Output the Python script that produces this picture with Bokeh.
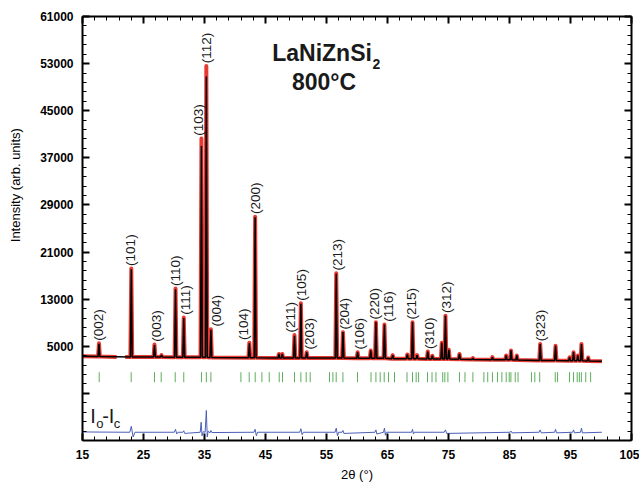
import math
from bokeh.plotting import figure
from bokeh.models import ColumnDataSource, FixedTicker, LinearAxis, Label, CustomJSTickFormatter
from bokeh.embed import file_html
from bokeh.resources import INLINE
from bokeh.core.properties import value

# ---------------- data ----------------
# peak positions (2theta, deg), calculated and observed peak tops, local background
peak_pos = [17.70, 23.00, 26.80, 27.95, 30.25, 31.60, 34.50, 35.30, 36.05, 42.35, 43.30,
            47.20, 47.75, 49.75, 50.80, 51.75, 56.60, 57.70, 60.10, 62.25, 63.10, 64.50,
            65.85, 68.25, 69.10, 69.85, 71.60, 72.35, 73.90, 74.50, 75.05, 76.80, 79.00,
            82.20, 84.45, 85.25, 86.20, 90.03, 92.55, 94.85, 95.50, 96.20, 96.80, 97.90]
calc_top = [5400, 18100, 5200, 3500, 14700, 9800, 39000, 50800, 7800, 5500, 26900,
            3700, 3700, 6800, 12200, 4000, 17300, 7400, 4000, 4300, 9100, 8700,
            3500, 3600, 9100, 3500, 4100, 3400, 5600, 10200, 4400, 3700, 3000,
            3150, 3450, 4300, 3450, 5400, 5100, 3150, 4000, 3450, 5400, 3100]
obs_top = [5500, 18200, 5300, 3500, 14800, 9900, 40300, 52600, 7900, 5600, 27000,
           3700, 3700, 6900, 12300, 4000, 17400, 7400, 4000, 4300, 9100, 8700,
           3500, 3600, 9100, 3500, 4100, 3400, 5600, 10200, 4400, 3700, 3000,
           3150, 3450, 4300, 3450, 5400, 5100, 3150, 4000, 3450, 5400, 3100]
peak_base = [3250, 3200, 3200, 3200, 3150, 3150, 3150, 3150, 3100, 3050, 3050,
             3000, 3000, 3000, 3000, 3000, 3000, 3000, 2950, 2950, 2950, 2950,
             2900, 2900, 2900, 2900, 2850, 2850, 2850, 2850, 2850, 2800, 2750,
             2700, 2700, 2700, 2650, 2600, 2600, 2550, 2550, 2550, 2550, 2500]
scan_start = (15.0, 3300)
scan_end = (100.15, 2450)
excluded = (20.6, 22.0, 3200)   # observed data missing in this 2theta window

# Miller-index labels and the peaks they sit on
hkl_text = ["(002)", "(101)", "(003)", "(110)", "(111)", "(103)", "(112)", "(004)",
            "(104)", "(200)", "(211)", "(105)", "(203)", "(213)", "(204)", "(106)",
            "(220)", "(116)", "(215)", "(310)", "(312)", "(323)"]
hkl_pos = [17.70, 23.00, 26.80, 30.25, 31.60, 34.50, 35.30, 36.05,
           42.35, 43.30, 49.75, 50.80, 51.75, 56.60, 57.70, 60.10,
           63.10, 64.50, 69.10, 71.60, 74.50, 90.03]
hkl_dx = [0, -1, 2, 0, 2, -3, 0, 6, -6, 0, -4, 1, 3, 1, 2, 2, -1, 4, -1, 2, 1, 0]

# Bragg reflection positions (green ticks)
bragg_pos = [17.74, 22.98, 26.80, 27.90, 30.20, 31.60, 34.50, 35.30, 36.05,
             40.97, 42.33, 43.31, 44.41, 45.61, 47.25, 47.79, 49.75, 50.80, 51.67, 52.33,
             55.49, 56.05, 56.59, 57.69, 60.08, 62.30, 63.10, 63.80, 64.46, 65.16, 66.15,
             68.20, 69.10, 69.70, 70.10, 71.56, 72.30, 72.95, 74.05, 74.40, 74.90,
             76.80, 77.70, 79.00, 80.80, 81.43, 82.20, 83.03, 83.75, 84.46, 84.95, 85.23,
             85.94, 86.40, 88.60, 89.15, 89.95, 92.50, 92.88, 94.84, 95.50, 96.10, 96.45,
             96.78, 97.50, 98.30]

# difference curve Io - Ic (offset)
diff_points = [(15.0, -9550), (22.75, -9600), (23.0, -8600), (23.3, -10400), (23.6, -9600),
               (30.05, -9600), (30.25, -9100), (30.45, -9900), (30.65, -9600),
               (31.45, -9600), (31.6, -9350), (31.75, -9800), (34.3, -9600), (34.45, -7900),
               (34.6, -10200), (34.8, -9500), (35.1, -9600), (35.3, -5900), (35.45, -10400),
               (35.6, -9400), (35.9, -9700), (36.05, -9300), (36.2, -9650), (43.1, -9600),
               (43.3, -9100), (43.5, -10200), (43.7, -9600), (50.6, -9600), (50.8, -9000),
               (51.0, -10000), (51.2, -9600), (56.4, -9600), (56.6, -8900), (56.8, -10200),
               (57.0, -9600), (57.55, -9600), (57.7, -9300), (57.85, -9800), (62.95, -9600),
               (63.1, -9200), (63.25, -9900), (64.35, -9600), (64.5, -8900), (64.65, -10100),
               (64.8, -9600), (68.95, -9600), (69.1, -9100), (69.25, -9900), (69.4, -9600),
               (74.3, -9600), (74.5, -9200), (74.7, -9800), (85.1, -9600), (85.25, -9400),
               (85.4, -9700), (89.85, -9600), (90.03, -9200), (90.2, -9700), (92.4, -9600),
               (92.55, -9100), (92.7, -9700), (95.35, -9600), (95.5, -9200), (95.65, -9700),
               (96.65, -9600), (96.8, -8900), (96.95, -9700), (100.15, -9600)]

x_ticks = [15, 25, 35, 45, 55, 65, 75, 85, 95, 105]
y_ticks = [-3000, 5000, 13000, 21000, 29000, 37000, 45000, 53000, 61000]

# ---------------- build line vertices ----------------
HW = 0.15  # half base width of a drawn peak (deg)
calc_x, calc_y = [scan_start[0]], [scan_start[1]]
obs_x, obs_y = [scan_start[0]], [scan_start[1]]
gap_done = False
for pos, ct, ot, b in zip(peak_pos, calc_top, obs_top, peak_base):
    if not gap_done and pos - HW > excluded[1]:
        obs_x += [excluded[0], float("nan"), excluded[1]]
        obs_y += [excluded[2], float("nan"), excluded[2]]
        gap_done = True
    calc_x += [pos - HW, pos, pos + HW]
    calc_y += [b, ct, b]
    obs_x += [pos - HW, pos, pos + HW]
    obs_y += [b, ot, b]
calc_x.append(scan_end[0]); calc_y.append(scan_end[1])
obs_x.append(scan_end[0]); obs_y.append(scan_end[1])

top_lookup = dict(zip(peak_pos, obs_top))
label_src = ColumnDataSource(dict(
    x=hkl_pos, y=[top_lookup[v] + 450 for v in hkl_pos], text=hkl_text, dx=hkl_dx))

FONT = "Liberation Sans"

p = figure(width=639, height=485, x_range=(15, 105), y_range=(-11000, 61000),
           output_backend="svg", toolbar_location=None,
           min_border_left=82, min_border_right=8, min_border_top=16, min_border_bottom=45)
p.outline_line_color = None
p.xgrid.visible = False
p.ygrid.visible = False
p.background_fill_color = "white"
p.border_fill_color = "white"

bottom_axis = p.xaxis[0]
left_axis = p.yaxis[0]

x_minor = list(range(15, 106, 2))
y_minor = list(range(-11000, 61001, 1600))

top_axis = LinearAxis()
right_axis = LinearAxis()
p.add_layout(top_axis, "above")
p.add_layout(right_axis, "right")

for ax in [bottom_axis, top_axis]:
    ax.ticker = FixedTicker(ticks=x_ticks, minor_ticks=x_minor)
for ax in [left_axis, right_axis]:
    ax.ticker = FixedTicker(ticks=y_ticks, minor_ticks=y_minor)

for ax in [bottom_axis, left_axis, top_axis, right_axis]:
    ax.axis_line_width = 2
    ax.axis_line_color = "black"
    ax.major_tick_in = 7
    ax.major_tick_out = 0
    ax.minor_tick_in = 4
    ax.minor_tick_out = 0
    ax.major_tick_line_width = 2
    ax.minor_tick_line_width = 1
    ax.major_tick_line_color = "black"
    ax.minor_tick_line_color = "black"
    ax.major_label_text_font = FONT
    ax.major_label_text_font_style = "bold"
    ax.major_label_text_font_size = "12px"
    ax.major_label_text_color = "black"

for ax in [top_axis, right_axis]:
    ax.formatter = CustomJSTickFormatter(code="return ''")
    ax.major_label_standoff = 0

left_axis.major_label_overrides = {-3000: ""}
left_axis.major_label_standoff = 9
# the title sits above the frame centre in the original: pad its start with no-break spaces
left_axis.axis_label = "\u00a0" * 24 + "Intensity (arb. units)"
left_axis.axis_label_text_font = FONT
left_axis.axis_label_text_font_style = "normal"
left_axis.axis_label_text_font_size = "13px"
left_axis.axis_label_text_color = "black"
left_axis.axis_label_standoff = 14

bottom_axis.major_label_standoff = 9
bottom_axis.axis_label = "2θ (°)"
bottom_axis.axis_label_text_font = FONT
bottom_axis.axis_label_text_font_style = "normal"
bottom_axis.axis_label_text_font_size = "13px"
bottom_axis.axis_label_text_color = "black"
bottom_axis.axis_label_standoff = 5

# observed (red) and calculated (black)
p.line(obs_x, obs_y, line_color="#e3251d", line_width=4, line_alpha=0.9, line_join="round")
p.line(calc_x, calc_y, line_color="black", line_width=1.5)

# Bragg positions
p.segment(x0=bragg_pos, x1=bragg_pos, y0=[-1100] * len(bragg_pos), y1=[600] * len(bragg_pos),
          line_color="#5cae5c", line_width=1)

# difference curve
p.line([d[0] for d in diff_points], [d[1] for d in diff_points],
       line_color="#4a5fb8", line_width=1)

# hkl labels
p.text(x="x", y="y", text="text", source=label_src, angle=math.pi / 2,
       x_offset="dx", text_align="left", text_baseline="middle",
       text_font=value(FONT), text_font_size=value("13.5px"), text_color="#1a1a1a")

# title
p.add_layout(Label(x=62.44, y=54880, text="LaNiZnSi", text_align="right",
                   text_baseline="middle", text_font=FONT, text_font_style="bold",
                   text_font_size="23px", text_color="#1a1a1a"))
p.add_layout(Label(x=62.55, y=53000, text="2", text_align="left",
                   text_baseline="middle", text_font=FONT, text_font_style="bold",
                   text_font_size="14px", text_color="#1a1a1a"))
p.add_layout(Label(x=54.6, y=49870, text="800°C", text_align="center",
                   text_baseline="middle", text_font=FONT, text_font_style="bold",
                   text_font_size="23px", text_color="#1a1a1a"))

# Io - Ic label
for tx, ty, tt, fs in [(16.26, -6755, "I", "20px"), (17.25, -8113, "o", "13px"),
                       (18.23, -6755, "-I", "20px"), (20.11, -8113, "c", "13px")]:
    p.add_layout(Label(x=tx, y=ty, text=tt, text_align="left", text_baseline="middle",
                       text_font=FONT, text_font_size=fs, text_color="#1a1a1a"))

open("out.html", "w").write(file_html(p, INLINE))
